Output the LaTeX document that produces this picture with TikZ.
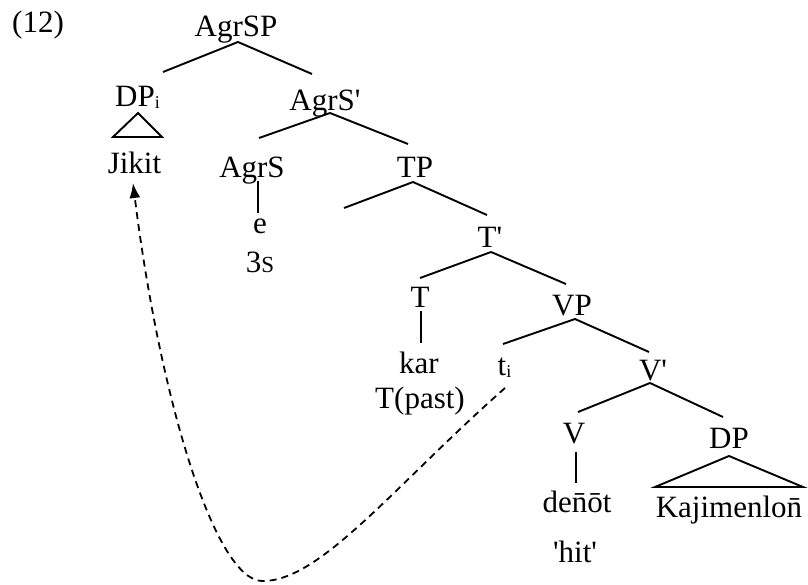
\documentclass[tikz,border=0pt]{standalone}
\usepackage{fontspec}
\setmainfont{Liberation Serif}[Ligatures=TeXOff]
\usetikzlibrary{calc,arrows.meta}
\newcommand\subi[1]{\rlap{\raisebox{-2pt}{\fontsize{18}{18}\selectfont #1}}}
\begin{document}
\begin{tikzpicture}[x=1pt,y=-1pt,
  lbl/.style={anchor=base, inner sep=0pt, font=\fontsize{31}{36}\selectfont},
  edge/.style={line width=1.9pt},
  movearrow/.style={line width=1.8pt, dash pattern=on 7pt off 5pt, -{Latex[length=15pt,width=11pt]}}]
\useasboundingbox (0,0) rectangle (808,584);
% labels
\node[lbl, anchor=base west] (ex) at (12,32) {(12)};
\node[lbl] (agrsp) at (236,36) {AgrSP};
\node[lbl] (dpi) at (135,106) {DP\subi{i}};
\node[lbl] (jikit) at (134.5,173) {Jikit};
\node[lbl] (agrsbar) at (325,110) {AgrS'};
\node[lbl] (agrs) at (252,177) {AgrS};
\node[lbl] (e) at (260,233) {e};
\node[lbl] (threes) at (260,272) {3{\fontsize{23}{23}\selectfont S}};
\node[lbl] (tp) at (415,177) {TP};
\coordinate (tpfree) at (344,208);
\node[lbl] (tbar) at (490,247) {T'};
\node[lbl] (t) at (420,307) {T};
\node[lbl] (kar) at (419,373) {kar};
\node[lbl] (tpast) at (420,408) {T(past)};
\node[lbl] (vp) at (572,315) {VP};
\node[lbl] (ti) at (502,375) {t\subi{i}};
\node[lbl] (vbar) at (653,380) {V'};
\node[lbl] (v) at (574,443) {V};
\node[lbl] (denot) at (577,512) {den̄ōt};
\node[lbl] (hit) at (575,562) {'hit'};
\node[lbl] (dp) at (729,448) {DP};
\node[lbl] (kaj) at (729,517) {Kajimenlon̄};
% branches
\draw[edge] ($(dpi.base)+(28,-34)$) -- ($(agrsp.base)+(2,6)$) -- ($(agrsbar.base)+(-13,-36)$);
\draw[edge] ($(agrs.base)+(7,-39)$) -- ($(agrsbar.base)+(5,3)$) -- ($(tp.base)+(-7,-33)$);
\draw[edge] (tpfree) -- ($(tp.base)+(-2,5)$) -- ($(tbar.base)+(-3,-32)$);
\draw[edge] ($(t.base)+(0,-29)$) -- ($(tbar.base)+(1,5)$) -- ($(vp.base)+(-6,-31)$);
\draw[edge] ($(ti.base)+(1,-31)$) -- ($(vp.base)+(3,4)$) -- ($(vbar.base)+(-4,-28)$);
\draw[edge] ($(v.base)+(4,-31)$) -- ($(vbar.base)+(-3,3)$) -- ($(dp.base)+(-6,-31)$);
\draw[edge] ($(agrs.base)+(6,4)$) -- ($(e.base)+(-2,-20)$);
\draw[edge] ($(t.base)+(1,4)$) -- ($(kar.base)+(2,-30)$);
\draw[edge] ($(v.base)+(2,9)$) -- ($(denot.base)+(-1,-29)$);
% triangles
\draw[edge, line join=miter] ($(dpi.base)+(3,7)$) -- ($(jikit.base)+(-21.5,-36)$) -- ($(jikit.base)+(27.5,-36)$) -- cycle;
\draw[edge, line join=miter] ($(dp.base)+(0,8)$) -- ($(kaj.base)+(-74,-30)$) -- ($(kaj.base)+(74,-30)$) -- cycle;
% movement
\draw[movearrow] ($(ti.base)+(3,13)$) .. controls (395,485) and (320,582) .. (262,581)
  .. controls (215,580) and (160,400) .. ($(jikit.base)+(-1.5,10)$);
\end{tikzpicture}
\end{document}
